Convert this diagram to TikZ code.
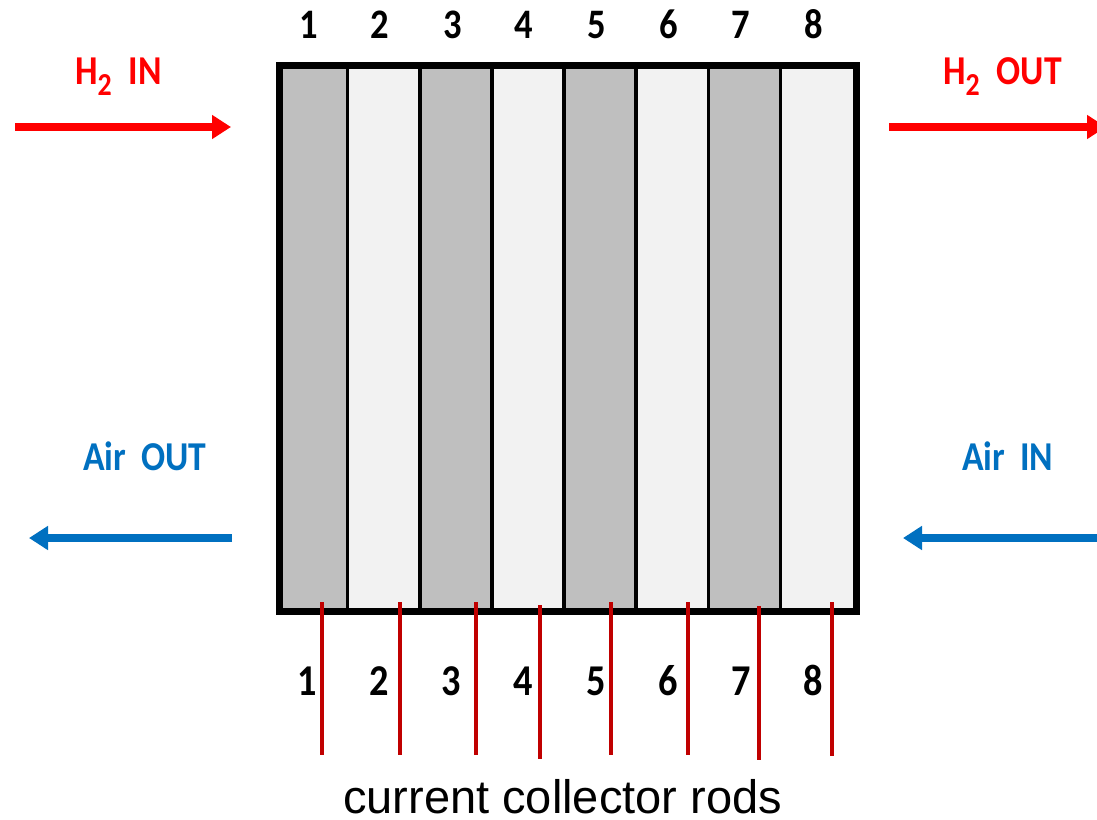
\documentclass[tikz,border=0pt]{standalone}
\usepackage{fontspec}
\setmainfont{Carlito}[FakeStretch=0.87]
\newfontfamily\arialfont{Liberation Sans}
\usetikzlibrary{arrows.meta}
\definecolor{hred}{HTML}{FF0000}
\definecolor{airblue}{HTML}{0070C0}
\definecolor{roddred}{HTML}{C00000}
\definecolor{darkstrip}{HTML}{BFBFBF}
\definecolor{lightstrip}{HTML}{F2F2F2}
\tikzset{
  numlab/.style={inner sep=0pt, anchor=base, font=\fontsize{42}{44}\selectfont\bfseries},
  botnum/.style={inner sep=0pt, anchor=base, font=\fontsize{44}{46}\selectfont\bfseries},
  flowlab/.style={inner sep=0pt, anchor=base west, font=\fontsize{41}{44}\selectfont\bfseries},
  flowarrow/.style={line width=7.5pt, -{Triangle[length=19pt,width=23pt]}},
  rodline/.style={draw=roddred, line width=4pt},
  divline/.style={draw=black, line width=3.5pt},
  boxborder/.style={draw=black, line width=7pt},
}
\newcommand{\subtwo}{\raisebox{-11pt}{\fontsize{32}{32}\selectfont 2}}
\begin{document}
\begin{tikzpicture}[x=1pt,y=-1pt]
\clip (0,0) rectangle (1097,819);
\fill[white] (0,0) rectangle (1097,819);
% strips
\foreach \i in {0,...,7}{
  \pgfmathsetmacro{\xa}{275.5+\i*72.125}
  \pgfmathsetmacro{\xb}{275.5+(\i+1)*72.125}
  \pgfmathtruncatemacro{\parity}{mod(\i,2)}
  \ifnum\parity=0
    \fill[darkstrip] (\xa,62) rectangle (\xb,608);
  \else
    \fill[lightstrip] (\xa,62) rectangle (\xb,608);
  \fi
}
\foreach \i in {1,...,7}{
  \pgfmathsetmacro{\xa}{275.5+\i*72.125}
  \draw[divline] (\xa,62) -- (\xa,608);
}
\node[boxborder, minimum width=577pt, minimum height=546pt, inner sep=0pt, anchor=north west] (stack) at (275.5,62) {};
% top numbers
\foreach \n/\x in {1/309,2/380,3/453,4/524,5/597,6/669,7/741,8/814}{
  \node[numlab] (t\n) at (\x,38) {\n};
}
% rods
\foreach \n/\x/\ya/\yb in {1/322/602/755,2/400/602/755,3/476/602/755,4/540/605/759,5/611/602/755,6/688/602/755,7/759/606/760,8/832/602/756}{
  \coordinate (ra\n) at (\x,\ya);
  \coordinate (rb\n) at (\x,\yb);
  \draw[rodline] (ra\n) -- (rb\n);
}
% bottom numbers
\foreach \n/\x in {1/307,2/379,3/451,4/523,5/596,6/668,7/741,8/813}{
  \node[botnum] (b\n) at (\x,695) {\n};
}
% flow labels
\node[flowlab, text=hred] (h2in) at (75,84) {H\subtwo\hspace{17pt}IN};
\node[flowlab, text=hred] (h2out) at (943,84) {H\subtwo\hspace{17pt}OUT};
\node[flowlab, text=airblue] (airout) at (83,470) {Air\hspace{15pt}OUT};
\node[flowlab, text=airblue] (airin) at (962,470) {Air\hspace{15pt}IN};
% arrows
\coordinate (a1s) at (15,127); \coordinate (a1e) at (231,127);
\coordinate (a2s) at (889,127); \coordinate (a2e) at (1106,127);
\coordinate (a3s) at (232,538); \coordinate (a3e) at (29,538);
\coordinate (a4s) at (1110,538); \coordinate (a4e) at (903,538);
\draw[flowarrow, draw=hred, fill=hred] (a1s) -- (a1e);
\draw[flowarrow, draw=hred, fill=hred] (a2s) -- (a2e);
\draw[flowarrow, draw=airblue, fill=airblue] (a3s) -- (a3e);
\draw[flowarrow, draw=airblue, fill=airblue] (a4s) -- (a4e);
% caption
\node[inner sep=0pt, anchor=base, text depth=0pt, font=\arialfont\fontsize{47}{50}\selectfont] (cap) at (562.5,813) {current collector rods};
\end{tikzpicture}
\end{document}
